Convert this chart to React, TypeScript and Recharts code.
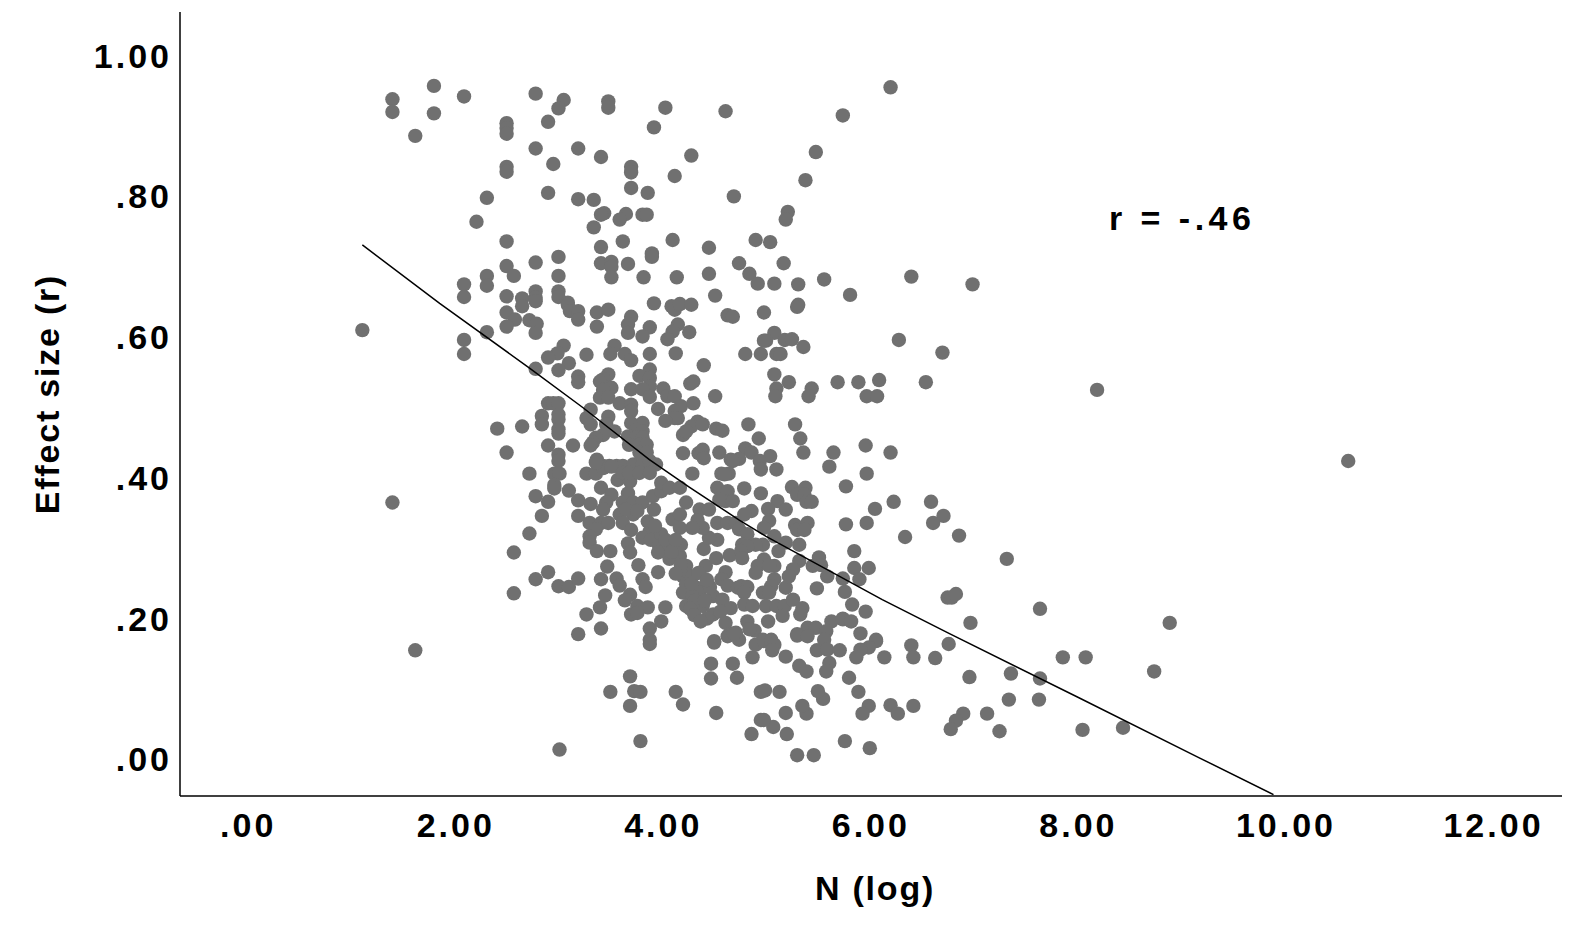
import React from 'react';
import {
  ScatterChart,
  Scatter,
  XAxis,
  YAxis,
  ReferenceDot,
} from 'recharts';

type Pair = [number, number];

const xTicks = [0, 2, 4, 6, 8, 10, 12];
const yTicks = [0, 0.2, 0.4, 0.6, 0.8, 1];

// [N (log), effect size]
const studiesAbove80: Pair[] = [
  [1.39, .938], [1.39, .92], [1.79, .957], [1.79, .918], [2.08, .942], [1.61, .886], [2.49, .904], [2.49, .897],
  [2.49, .889], [2.49, .842], [2.49, .835], [2.3, .798], [2.77, .946], [3.04, .937], [2.99, .925], [2.89, .906],
  [3.47, .935], [3.47, .926], [4.02, .926], [3.91, .898], [2.77, .868], [3.18, .868], [2.94, .846], [3.4, .856],
  [3.69, .842], [3.69, .834], [4.27, .858], [4.11, .829], [3.69, .812], [3.85, .805], [2.89, .805], [3.18, .796],
  [3.33, .795], [4.6, .921], [6.19, .955], [5.73, .915], [5.47, .863], [5.37, .823], [4.68, .8],
];
const studies60to80: Pair[] = [
  [2.2, .764], [3.43, .776], [3.4, .774], [3.64, .775], [3.58, .767], [3.8, .774], [3.84, .774], [3.33, .756],
  [2.49, .736], [3.4, .728], [3.61, .736], [4.09, .738], [3.89, .719], [3.89, .714], [2.49, .701], [2.56, .687],
  [2.77, .706], [2.99, .714], [2.99, .687], [3.4, .705], [3.5, .707], [3.5, .7], [3.5, .685], [3.66, .704],
  [3.81, .685], [4.13, .685], [2.3, .687], [2.3, .673], [2.08, .675], [2.08, .657], [2.49, .658], [2.64, .655],
  [2.77, .665], [2.77, .656], [2.99, .665], [2.99, .657], [3.08, .649], [2.64, .644], [2.77, .651], [2.49, .635],
  [2.57, .625], [2.49, .615], [2.71, .624], [2.78, .619], [2.77, .606], [3.08, .646], [3.1, .637], [3.18, .637],
  [3.18, .625], [3.36, .635], [3.47, .639], [3.36, .615], [3.69, .629], [3.66, .618], [3.66, .606], [3.87, .614],
  [3.8, .601], [3.91, .648], [4.08, .644], [4.11, .639], [4.16, .647], [4.27, .646], [4.14, .618], [4.09, .608],
  [4.25, .607], [5.2, .778], [5.18, .767], [4.89, .738], [5.03, .735], [4.44, .727], [4.73, .705], [4.83, .69],
  [4.91, .676], [5.07, .676], [5.16, .705], [5.3, .675], [5.55, .682], [4.5, .659], [4.44, .69], [5.3, .646],
  [6.39, .686], [6.98, .675], [5.8, .66], [4.62, .631], [4.67, .629], [4.97, .635], [5.07, .606], [2.08, .596],
  [2.3, .607], [1.1, .61], [6.27, .596],
];
const studies40to60: Pair[] = [
  [2.08, .576], [4.04, .597], [3.04, .588], [2.98, .577], [2.89, .571], [3.26, .575], [3.09, .563], [2.99, .553],
  [2.77, .555], [3.18, .544], [3.18, .536], [3.53, .588], [3.49, .576], [3.63, .576], [3.69, .567], [3.87, .576],
  [4.12, .577], [3.47, .547], [3.42, .54], [3.39, .537], [3.5, .528], [3.42, .525], [3.39, .514], [3.47, .514],
  [3.87, .554], [3.77, .545], [3.87, .542], [3.87, .53], [3.69, .526], [3.8, .526], [3.87, .515], [4.0, .527],
  [4.04, .516], [4.11, .516], [4.26, .534], [4.29, .537], [3.95, .498], [4.17, .502], [4.11, .495], [4.14, .485],
  [4.11, .485], [4.02, .481], [4.29, .506], [4.33, .48], [4.27, .473], [4.19, .461], [4.22, .466], [4.19, .435],
  [4.34, .435], [2.89, .506], [2.94, .506], [2.99, .506], [2.99, .49], [2.99, .483], [2.83, .488], [2.83, .476],
  [2.99, .469], [2.99, .463], [2.4, .47], [2.64, .473], [2.49, .436], [2.89, .446], [3.13, .446], [2.99, .433],
  [2.99, .424], [3.3, .497], [3.26, .485], [3.3, .476], [3.47, .487], [3.45, .476], [3.53, .466], [3.58, .506],
  [3.69, .504], [3.69, .495], [3.69, .478], [3.8, .478], [3.74, .469], [3.8, .466], [3.66, .459], [3.74, .457],
  [3.8, .457], [3.67, .447], [3.77, .447], [3.84, .447], [3.42, .461], [3.35, .457], [3.32, .45], [3.3, .446],
  [3.36, .426], [3.42, .417], [3.48, .417], [3.55, .417], [3.61, .417], [3.71, .419], [3.8, .419], [3.87, .424],
  [3.93, .419], [3.77, .436], [3.84, .436], [5.6, .416], [5.96, .406], [4.39, .56], [5.29, .643], [5.07, .547],
  [5.21, .536], [5.09, .527], [5.08, .516], [5.43, .527], [5.4, .516], [5.68, .536], [5.88, .536], [6.08, .539],
  [5.96, .516], [6.06, .516], [6.53, .536], [4.5, .516], [4.38, .476], [4.51, .47], [4.57, .467], [4.82, .476],
  [5.27, .476], [5.32, .456], [4.92, .456], [5.35, .436], [4.38, .44], [4.39, .428], [4.54, .436], [4.79, .442],
  [4.85, .436], [4.65, .426], [4.73, .427], [5.03, .431], [4.93, .424], [5.64, .436], [5.95, .446], [6.19, .436],
  [4.67, .424], [4.94, .412], [5.09, .412], [4.56, .406], [4.63, .406], [4.99, .595], [5.17, .596], [5.24, .597],
  [5.35, .586], [4.79, .576], [4.94, .576], [5.09, .576], [5.13, .576], [4.97, .595], [6.69, .578], [8.18, .525],
  [10.6, .424],
];
const studies30to40: Pair[] = [
  [2.71, .406], [2.95, .406], [3.0, .406], [2.95, .39], [2.95, .385], [2.77, .374], [2.89, .366], [3.09, .382],
  [3.18, .368], [3.3, .363], [3.26, .406], [3.35, .406], [3.42, .414], [3.5, .416], [3.35, .422], [3.56, .397],
  [3.68, .395], [3.61, .407], [3.67, .407], [3.77, .407], [3.87, .407], [3.4, .386], [3.5, .376], [3.66, .378],
  [3.45, .365], [3.42, .355], [3.61, .365], [3.71, .365], [3.8, .365], [3.58, .348], [3.71, .348], [3.64, .355],
  [3.75, .353], [3.61, .336], [3.85, .338], [3.91, .355], [3.9, .374], [3.98, .381], [3.98, .393], [4.06, .386],
  [4.16, .386], [4.28, .406], [3.29, .336], [3.4, .336], [3.47, .336], [3.35, .327], [4.09, .341], [4.16, .348],
  [4.22, .365], [4.35, .355], [4.44, .355], [4.52, .336], [4.62, .336], [4.7, .336], [4.52, .386], [4.62, .381],
  [4.6, .367], [4.54, .369], [4.67, .367], [4.59, .405], [4.78, .385], [4.94, .378], [5.24, .387], [5.37, .386],
  [5.29, .376], [5.36, .376], [5.38, .366], [5.43, .366], [5.1, .367], [5.18, .355], [5.01, .356], [5.02, .339],
  [4.85, .353], [4.78, .348], [5.27, .333], [5.39, .336], [5.76, .388], [6.22, .366], [6.58, .366], [6.7, .346],
  [6.6, .336], [6.04, .356], [5.96, .336], [5.76, .334], [1.39, .365], [2.83, .346], [3.18, .346], [4.33, .34],
];
const studies20to30: Pair[] = [
  [2.71, .321], [2.56, .294], [2.89, .266], [2.77, .256], [2.56, .236], [2.99, .246], [3.09, .245], [3.18, .257],
  [3.29, .317], [3.29, .308], [3.36, .296], [3.49, .296], [3.66, .307], [3.68, .294], [3.69, .326], [3.87, .324],
  [3.8, .315], [3.88, .312], [3.98, .32], [3.96, .303], [4.03, .3], [3.95, .294], [4.06, .285], [4.16, .289],
  [4.17, .305], [4.22, .275], [4.17, .276], [3.46, .274], [3.76, .276], [3.95, .266], [3.4, .256], [3.55, .257],
  [3.58, .247], [3.8, .256], [3.83, .245], [3.44, .233], [3.68, .234], [3.63, .226], [3.39, .216], [3.26, .206],
  [3.75, .218], [3.85, .216], [3.69, .206], [3.75, .208], [4.02, .216], [4.19, .26], [4.28, .26], [4.22, .249],
  [4.32, .244], [4.19, .237], [4.35, .237], [4.28, .232], [4.22, .218], [4.38, .218], [4.48, .232], [4.48, .206],
  [4.57, .227], [4.65, .215], [4.41, .275], [4.51, .286], [4.64, .29], [4.39, .299], [4.52, .312], [4.44, .315],
  [4.38, .329], [4.28, .329], [4.16, .329], [4.6, .266], [4.56, .256], [4.62, .247], [4.72, .244], [5.31, .305],
  [5.18, .308], [5.11, .296], [5.07, .317], [4.96, .305], [4.89, .305], [4.97, .329], [4.73, .327], [4.81, .32],
  [4.76, .305], [4.81, .303], [4.75, .296], [4.76, .286], [4.97, .284], [4.91, .275], [4.89, .265], [5.07, .275],
  [5.02, .275], [5.07, .256], [5.04, .246], [4.96, .237], [5.02, .237], [4.75, .246], [4.81, .245], [4.78, .237],
  [5.18, .244], [5.31, .282], [5.25, .27], [5.21, .26], [4.78, .22], [4.86, .218], [4.99, .218], [5.09, .218],
  [5.17, .218], [5.25, .227], [5.34, .215], [5.32, .206], [5.15, .204], [5.29, .326], [5.36, .326], [5.84, .296],
  [5.98, .272], [5.84, .272], [5.89, .256], [5.75, .238], [5.73, .257], [5.58, .26], [5.5, .287], [5.44, .275],
  [5.52, .276], [5.48, .243], [5.95, .21], [6.74, .23], [6.33, .316], [6.85, .318], [7.31, .285], [6.78, .23],
  [6.82, .235], [7.63, .214], [5.73, .2], [5.82, .22], [4.02, .312], [4.08, .295], [4.12, .312], [3.92, .332],
  [4.27, .25], [4.3, .225], [4.4, .226], [4.45, .245], [4.26, .214], [4.3, .205], [4.42, .2], [4.55, .21],
  [4.12, .264], [4.34, .265], [4.42, .255],
];
const studies10to20: Pair[] = [
  [3.98, .196], [3.87, .186], [3.4, .186], [3.18, .178], [3.87, .17], [4.36, .196], [4.6, .194], [4.64, .178],
  [4.7, .18], [4.49, .168], [5.01, .196], [4.81, .196], [4.88, .183], [4.83, .185], [5.39, .187], [5.47, .187],
  [5.62, .196], [5.73, .199], [5.81, .196], [5.57, .182], [5.29, .178], [4.73, .17], [4.96, .17], [5.04, .17],
  [5.9, .179], [6.05, .17], [6.05, .168], [5.98, .159], [5.9, .156], [5.86, .145], [6.13, .145], [6.39, .162],
  [6.41, .145], [5.79, .116], [3.68, .118], [4.46, .115], [4.46, .136], [4.71, .116], [4.67, .136], [3.87, .164],
  [4.49, .166], [4.86, .145], [5.18, .146], [5.31, .133], [5.38, .125], [5.6, .137], [5.57, .125], [4.62, .175],
  [4.68, .179], [4.89, .163], [4.97, .168], [5.04, .168], [5.07, .163], [5.05, .155], [5.29, .176], [5.39, .175],
  [5.55, .17], [5.48, .155], [5.58, .156], [5.7, .155], [1.61, .155], [8.88, .194], [6.96, .194], [6.75, .164],
  [6.62, .144], [7.85, .145], [8.07, .145], [6.95, .117], [7.35, .122], [7.63, .115], [8.73, .125],
];
const studiesBelow10: Pair[] = [
  [5.88, .096], [5.98, .076], [5.92, .065], [6.19, .077], [6.26, .065], [6.41, .076], [5.75, .026], [5.99, .016],
  [5.45, .006], [5.29, .006], [5.19, .036], [5.06, .046], [4.94, .056], [4.97, .056], [4.85, .036], [5.38, .065],
  [5.34, .076], [5.18, .066], [5.54, .086], [5.49, .097], [5.12, .096], [4.94, .096], [4.98, .098], [4.51, .066],
  [4.19, .078], [4.12, .096], [3.78, .026], [3.68, .076], [3.49, .096], [3.72, .097], [3.78, .096], [3.0, .014],
  [7.33, .085], [7.62, .085], [6.89, .065], [6.82, .055], [6.77, .043], [7.12, .065], [7.24, .04], [8.04, .042],
  [8.43, .045],
];
const studies = [
  ...studiesAbove80, ...studies60to80, ...studies40to60, ...studies30to40,
  ...studies20to30, ...studies10to20, ...studiesBelow10,
].map(([n, r]) => ({ n, r }));

const fitN = [1.1, 1.845, 2.711, 3.224, 3.866, 4.25, 4.732, 4.99, 5.663, 6.11, 6.753, 8, 9.16, 9.88];
const fitR = [.731, .648, .556, .5, .426, .387, .34, .317, .263, .227, .179, .088, .0026, -.05];
const fitLine = fitN.map((n, i) => ({ n, r: fitR[i] }));

const fmt = (v: number) => v.toFixed(2).replace(/^0/, '');
const tickStyle = { fontSize: 34, fontWeight: 700, fill: '#000', letterSpacing: 3, fontFamily: 'Liberation Sans' };
const labelStyle = { fontSize: 34, fontWeight: 700, fill: '#000', letterSpacing: 1.8, fontFamily: 'Liberation Sans' };

const Dot = (props: any) => <circle cx={props.cx} cy={props.cy} r={7.2} fill="#707070" />;

export default function App() {
  return (
    <div style={{ position: 'absolute', left: 0, top: 0, width: 1587, height: 937, background: '#fff' }}>
      <ScatterChart width={1587} height={937} margin={{ top: 12, right: 25, bottom: 0, left: 0 }}>
        <XAxis
          type="number"
          dataKey="n"
          domain={[-0.657, 12.66]}
          ticks={xTicks}
          tickFormatter={fmt}
          tick={tickStyle}
          tickLine={false}
          tickMargin={11}
          height={141}
          allowDataOverflow
          axisLine={{ stroke: '#000', strokeWidth: 1.5 }}
          label={{ value: 'N (log)', position: 'insideTop', offset: 80, dx: 4, style: labelStyle }}
        />
        <YAxis
          type="number"
          dataKey="r"
          domain={[-0.052, 1.062]}
          ticks={yTicks}
          tickFormatter={fmt}
          tick={tickStyle}
          tickLine={false}
          tickMargin={2}
          width={180}
          allowDataOverflow
          axisLine={{ stroke: '#000', strokeWidth: 1.5 }}
          label={{ value: 'Effect size (r)', angle: -90, position: 'insideLeft', offset: 47, dy: -10, style: { ...labelStyle, textAnchor: 'middle' } }}
        />
        <Scatter data={studies} shape={Dot} isAnimationActive={false} />
        <Scatter
          data={fitLine}
          line={{ stroke: '#000', strokeWidth: 1.5 }}
          shape={() => null}
          isAnimationActive={false}
        />
        <ReferenceDot
          x={9.0}
          y={0.77}
          r={0}
          fill="none"
          stroke="none"
          label={{ value: 'r = -.46', position: 'center', style: { ...tickStyle, letterSpacing: 4.5 } }}
        />
      </ScatterChart>
    </div>
  );
}
